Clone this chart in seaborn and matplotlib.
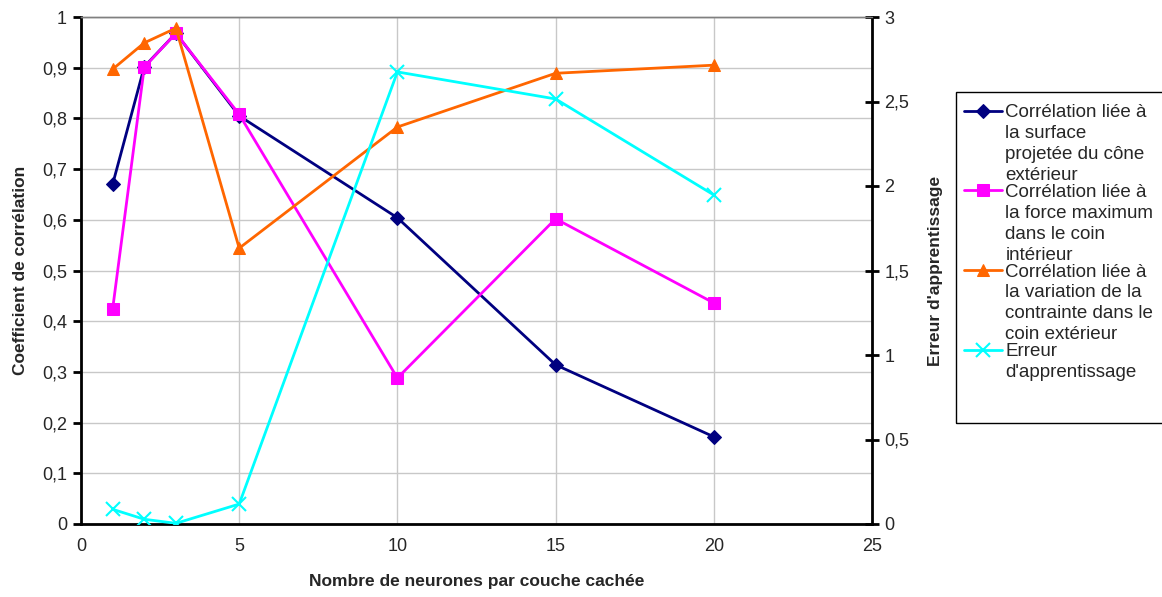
import matplotlib
matplotlib.use("Agg")
import matplotlib.pyplot as plt
from matplotlib.patches import Rectangle
import seaborn as sns

# values
neurones = [1, 2, 3, 5, 10, 15, 20]
corr_surface = [0.670, 0.902, 0.968, 0.805, 0.604, 0.314, 0.172]
corr_force = [0.424, 0.901, 0.968, 0.808, 0.288, 0.602, 0.436]
corr_contrainte = [0.897, 0.949, 0.978, 0.544, 0.783, 0.889, 0.905]
erreur = [0.087, 0.028, 0.004, 0.118, 2.675, 2.515, 1.947]

labels = [
    "Corrélation liée à\nla surface\nprojetée du cône\nextérieur",
    "Corrélation liée à\nla force maximum\ndans le coin\nintérieur",
    "Corrélation liée à\nla variation de la\ncontrainte dans le\ncoin extérieur",
    "Erreur\nd'apprentissage",
]
left_ticks = [0, 0.1, 0.2, 0.3, 0.4, 0.5, 0.6, 0.7, 0.8, 0.9, 1]
right_ticks = [0, 0.5, 1, 1.5, 2, 2.5, 3]
x_ticks = [0, 5, 10, 15, 20, 25]


def fr(v):
    return f"{v:g}".replace(".", ",")


sns.set_style("white")
plt.rcParams["font.family"] = ["Liberation Sans", "DejaVu Sans"]

fig = plt.figure(figsize=(11.62, 5.97), dpi=100)
ax = fig.add_axes([81 / 1162, 73 / 597, 791 / 1162, 507 / 597])
ax2 = ax.twinx()

series = [
    (corr_surface, "#000080", "D", 7, labels[0]),
    (corr_force, "#ff00ff", "s", 9, labels[1]),
    (corr_contrainte, "#ff6600", "^", 8, labels[2]),
]
for vals, col, mk, ms, lab in series:
    sns.lineplot(x=neurones, y=vals, ax=ax, color=col, marker=mk, markersize=ms,
                 markeredgecolor=col, linewidth=2, label=lab, legend=False)

sns.lineplot(x=neurones, y=erreur, ax=ax2, color="#00ffff", marker="x", markersize=10,
             markeredgecolor="#00ffff", markeredgewidth=1.5, linewidth=2,
             label=labels[3], legend=False)

ax.set_xlim(0, 25)
ax.set_ylim(0, 1)
ax2.set_ylim(0, 3)
ax.set_xticks(x_ticks)
ax.set_xticklabels([fr(v) for v in x_ticks], fontsize=13)
ax.set_yticks(left_ticks)
ax.set_yticklabels([fr(v) for v in left_ticks], fontsize=13)
ax2.set_yticks(right_ticks)
ax2.set_yticklabels([fr(v) for v in right_ticks], fontsize=13)

ax.grid(True, color="#c8c8c8", linewidth=1)
ax.set_axisbelow(True)

for a in (ax, ax2):
    for side in ("left", "right", "bottom"):
        a.spines[side].set_color("black")
        a.spines[side].set_linewidth(2)
    a.spines["top"].set_color("#808080")
    a.spines["top"].set_linewidth(1)
ax.spines["right"].set_visible(False)
ax2.spines["left"].set_visible(False)
ax2.spines["bottom"].set_visible(False)

ax.tick_params(axis="both", direction="out", length=6, width=2, color="black", pad=4)
ax2.tick_params(axis="y", direction="inout", length=10, width=2, color="black", pad=4)

ax.set_xlabel("Nombre de neurones par couche cachée", fontsize=12.5, fontweight="bold", labelpad=14)
ax.set_ylabel("Coefficient de corrélation", fontsize=12.5, fontweight="bold", labelpad=10)
ax2.set_ylabel("Erreur d'apprentissage", fontsize=12.5, fontweight="bold", labelpad=13)

h1, l1 = ax.get_legend_handles_labels()
h2, l2 = ax2.get_legend_handles_labels()
leg = fig.legend(h1 + h2, l1 + l2, loc="upper left",
                 bbox_to_anchor=(951 / 1162, 1 - 91 / 597),
                 frameon=False, fontsize=13.5, handlelength=2.0, handletextpad=0.2,
                 labelspacing=0.0, borderpad=0.2)
for t in leg.get_texts():
    t.set_linespacing(1.3)
# Excel puts the legend symbol next to the first line of each entry
for column in leg._legend_handle_box.get_children():
    for row in column.get_children():
        row.align = "top"

fig.patches.append(Rectangle((956 / 1162, 1 - 423 / 597), 220 / 1162, 331 / 597,
                             transform=fig.transFigure, fill=False,
                             edgecolor="black", linewidth=1))

fig.savefig("out.png", dpi=100)
